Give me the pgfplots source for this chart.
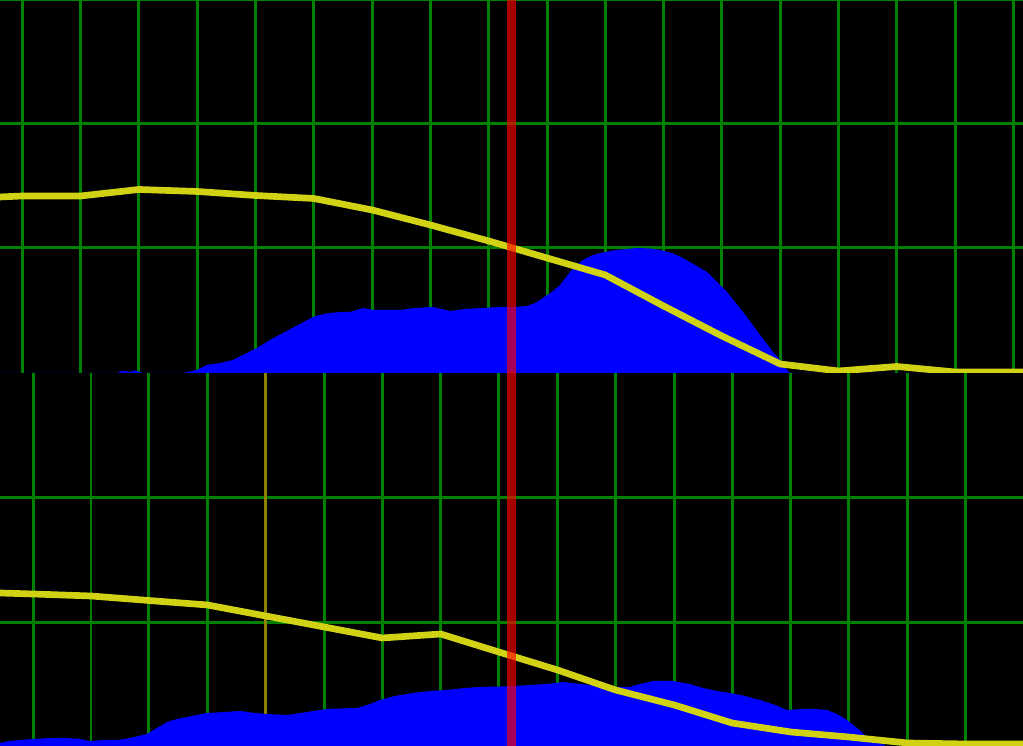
\documentclass[border=0pt]{standalone}
\usepackage{pgfplots}
\pgfplotsset{compat=1.18}
\definecolor{gridgreen}{RGB}{0,128,0}
\definecolor{lineyellow}{RGB}{210,210,20}
\definecolor{gridolive}{RGB}{140,130,0}
\definecolor{cursorred}{RGB}{255,0,0}
\pgfplotsset{
  panel/.style={
    width=10.23cm, height=3.73cm, scale only axis,
    xmin=0, xmax=1023, ymin=0, ymax=373,
    axis background/.style={fill=black},
    axis line style={draw=none},
    grid=major,
    major grid style={gridgreen, line width=0.85pt},
    major tick length=0pt,
    xticklabels={}, yticklabels={},
    clip=true,
  }
}
\begin{document}
\begin{tikzpicture}
\useasboundingbox (0,0) rectangle (10.23cm,7.46cm);
% ---------------- top panel ----------------
\begin{axis}[panel, at={(0,3.73cm)}, anchor=south west,
  xtick={22.3,80.6,138.9,197.2,255.5,313.8,372.1,430.4,488.7,547.0,605.3,663.6,721.9,780.2,838.5,896.8,955.1,1013.4},
  ytick={125,249,373}]
\addplot[fill=blue, draw=none] coordinates {
(0,0)(118,0)(120,1.5)(125,2)(130,1)(135,2.5)(140,1)(142,0)(183,0)(185,0.5)(197,3)(207,8)(220,10)(233,13)(245,19)(257,25)(270,33)(283,40)(298,48)(313,56)(320,58)(330,60)(340,61)(350,61)(363,65)(373,63)(385,63)(400,63)(415,65)(433,66)(450,62)(465,64)(483,65)(500,66)(515,66)(527,67)(535,70)(543,75)(552,81)(560,88)(567,97)(573,105)(583,113)(593,118)(605,121)(617,123)(637,125)(650,124.5)(660,123)(672,120)(683,115)(695,108)(707,101)(717,91)(727,81)(735,71)(743,61)(752,49)(760,38)(767,29)(773,21)(782,11)(787,3)(790,0)(1023,0)
} \closedcycle;
\addplot[lineyellow, line width=1.9pt] coordinates {
(0,176)(22.3,177)(80.6,177)(138.9,183.5)(197.2,181.5)(255.5,177.5)(313.8,174.5)(372.1,163)(430.4,148)(488.7,132)(547.0,115)(605.3,98)(663.6,67)(721.9,37)(780.2,9)(838.5,2)(896.8,6.5)(955.1,1)(1013.4,1)(1023,1)
};
\addplot[cursorred, opacity=0.65, line width=2.36pt] coordinates {(511.5,-5)(511.5,380)};
\end{axis}
% ---------------- bottom panel ----------------
\begin{axis}[panel, at={(0,0)}, anchor=south west,
  xtick={33.3,91,148.8,207.5,324.3,382.2,440.7,498.8,557.5,615.5,674.2,732,790.8,848.5,907.5,965.7},
  ytick={123.7,248.7}]
\addplot[gridolive, line width=0.85pt] coordinates {(265.8,0)(265.8,373)};
\addplot[fill=blue, draw=none] coordinates {
(0,0)(0,3)(10,5)(20,6)(33,7)(50,8)(67,8)(80,7)(90,5)(105,6)(117,6)(130,8)(147,12)(157,18)(167,24)(177,27)(187,29)(207,33)(225,34)(240,35)(255,33)(267,32)(287,31)(307,34)(327,37)(340,37.5)(357,38)(370,42)(380,46)(395,50)(413,53)(430,55)(447,56)(465,58)(480,59)(500,59.5)(513,60)(530,61)(547,62)(563,64)(580,62)(600,60)(615,59)(630,59)(640,62)(653,65)(673,65)(690,62)(703,58)(717,55)(730,53)(745,50)(760,46)(775,41)(787,36)(803,37)(815,37)(827,36)(837,32)(847,26)(857,18)(867,9)(875,5)(882,2)(886,0)(1023,0)
} \closedcycle;
\addplot[lineyellow, line width=1.9pt] coordinates {
(0,153)(33.3,152)(91,150)(148.8,145.5)(207.5,141)(265.8,130)(324.3,119)(382.2,108)(440.7,112)(498.8,94)(557.5,76)(615.5,56)(674.2,41)(732,23)(790.8,14)(848.5,9)(907.5,3)(965.7,2)(1023,2)
};
\addplot[cursorred, opacity=0.65, line width=2.36pt] coordinates {(511.5,-5)(511.5,380)};
\end{axis}
\end{tikzpicture}
\end{document}
